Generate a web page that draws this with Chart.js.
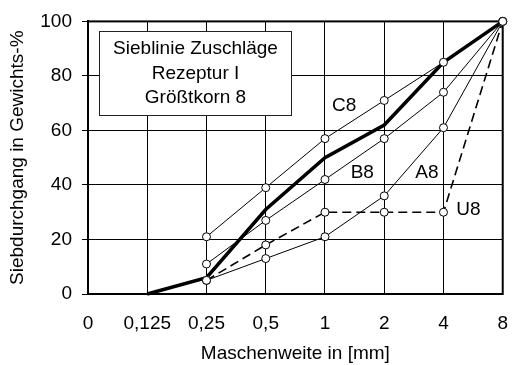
<!DOCTYPE html>
<html>
<head>
<meta charset="utf-8">
<script src="https://cdn.jsdelivr.net/npm/chart.js@4/dist/chart.umd.min.js"></script>
<style>
  html, body { margin: 0; padding: 0; background: #fff; }
  #wrap { width: 526px; height: 365px; }
</style>
</head>
<body>
<div id="wrap"><canvas id="c" width="526" height="365"></canvas></div>
<script>
// Categories (sieve sizes in mm)
const categories = ['0', '0,125', '0,25', '0,5', '1', '2', '4', '8'];
// Grading curves (passing in % by weight)
const seriesA8 = [null, null, 5, 13, 21, 36, 61, 100];
const seriesB8 = [null, null, 11, 27, 42, 57, 74, 100];
const seriesC8 = [null, null, 21, 39, 57, 71, 85, 100];
const seriesU8 = [null, null, 5, 18, 30, 30, 30, 100];
const seriesMix = [null, 0, 6, 31, 50, 62, 85, 100];
// Y tick values
const yTicks = [0, 20, 40, 60, 80, 100];
// Text
const boxLines = ['Sieblinie Zuschläge', 'Rezeptur I', 'Größtkorn 8'];
const curveNames = ['C8', 'B8', 'A8', 'U8'];
const curveNamePos = [[4.325, 69], [4.63, 44.5], [5.72, 44.5], [6.42, 31]];
const boxPos = { x0: 0.18, x1: 3.43, y0: 96.4, y1: 65.7 };

const FONT = "'Liberation Sans', Arial, sans-serif";
const FS = 19;

const overlay = {
  id: 'overlay',
  beforeDatasetsDraw(chart) {
    const { ctx, chartArea: a } = chart;
    ctx.save();
    ctx.strokeStyle = '#000';
    ctx.lineWidth = 2;
    ctx.strokeRect(a.left, a.top, a.right - a.left, a.bottom - a.top);
    ctx.restore();
  },
  afterDatasetsDraw(chart) {
    const { ctx, scales: { x, y } } = chart;
    ctx.save();
    // text box
    const bx0 = Math.round(x.getPixelForValue(boxPos.x0)) + 0.5;
    const bx1 = Math.round(x.getPixelForValue(boxPos.x1)) + 0.5;
    const by0 = Math.round(y.getPixelForValue(boxPos.y0)) + 0.5;
    const by1 = Math.round(y.getPixelForValue(boxPos.y1)) + 0.5;
    ctx.fillStyle = '#fff';
    ctx.fillRect(bx0, by0, bx1 - bx0, by1 - by0);
    ctx.strokeStyle = '#222';
    ctx.lineWidth = 1;
    ctx.strokeRect(bx0, by0, bx1 - bx0, by1 - by0);
    ctx.fillStyle = '#000';
    ctx.font = FS + 'px ' + FONT;
    ctx.textAlign = 'center';
    ctx.textBaseline = 'middle';
    const cx = (bx0 + bx1) / 2;
    const lh = 24.5;
    const cy = (by0 + by1) / 2;
    boxLines.forEach((t, i) => {
      ctx.fillText(t, cx, cy + (i - 1) * lh);
    });
    // curve names
    curveNames.forEach((t, i) => {
      const px = x.getPixelForValue(curveNamePos[i][0]);
      const py = y.getPixelForValue(curveNamePos[i][1]);
      ctx.fillText(t, px, py);
    });
    ctx.restore();
  }
};

const pointStyle = {
  pointRadius: 4,
  pointHoverRadius: 4,
  pointBackgroundColor: '#fff',
  pointBorderColor: '#000',
  pointBorderWidth: 1
};

new Chart(document.getElementById('c'), {
  type: 'line',
  data: {
    labels: categories,
    datasets: [
      Object.assign({ label: 'C8', data: seriesC8, borderColor: '#000', borderWidth: 1 }, pointStyle),
      Object.assign({ label: 'B8', data: seriesB8, borderColor: '#000', borderWidth: 1 }, pointStyle),
      Object.assign({ label: 'A8', data: seriesA8, borderColor: '#000', borderWidth: 1 }, pointStyle),
      Object.assign({ label: 'U8', data: seriesU8, borderColor: '#000', borderWidth: 1.6, borderDash: [9, 5] }, pointStyle),
      { label: 'Sieblinie', data: seriesMix, borderColor: '#000', borderWidth: 3.5, pointRadius: 0, pointHoverRadius: 0 }
    ]
  },
  options: {
    responsive: false,
    animation: false,
    devicePixelRatio: 1,
    clip: false,
    spanGaps: false,
    layout: { padding: { left: 0, right: 5, top: 20, bottom: 0 } },
    plugins: { legend: { display: false }, tooltip: { enabled: false } },
    elements: { line: { tension: 0, fill: false } },
    scales: {
      x: {
        type: 'category',
        offset: false,
        grid: { color: '#000', lineWidth: 1, drawTicks: false },
        border: { display: true, color: '#000', width: 2 },
        ticks: { color: '#000', font: { family: FONT, size: FS }, padding: 18, autoSkip: false, maxRotation: 0 },
        title: { display: true, text: 'Maschenweite in [mm]', color: '#000', font: { family: FONT, size: FS }, padding: { top: 0, bottom: 0 } },
        afterFit(s) { s.height = 71; }
      },
      y: {
        min: 0,
        max: 100,
        afterBuildTicks(s) { s.ticks = yTicks.map(v => ({ value: v })); },
        grid: { color: '#000', lineWidth: 1, drawTicks: true, tickLength: 6 },
        border: { display: true, color: '#000', width: 2 },
        ticks: { color: '#000', font: { family: FONT, size: FS }, padding: 10 },
        title: { display: true, text: 'Siebdurchgang in Gewichts-%', color: '#000', font: { family: FONT, size: FS }, padding: { top: 6, bottom: 0 } },
        afterFit(s) { s.width = 88; }
      }
    }
  },
  plugins: [overlay]
});
</script>
</body>
</html>
